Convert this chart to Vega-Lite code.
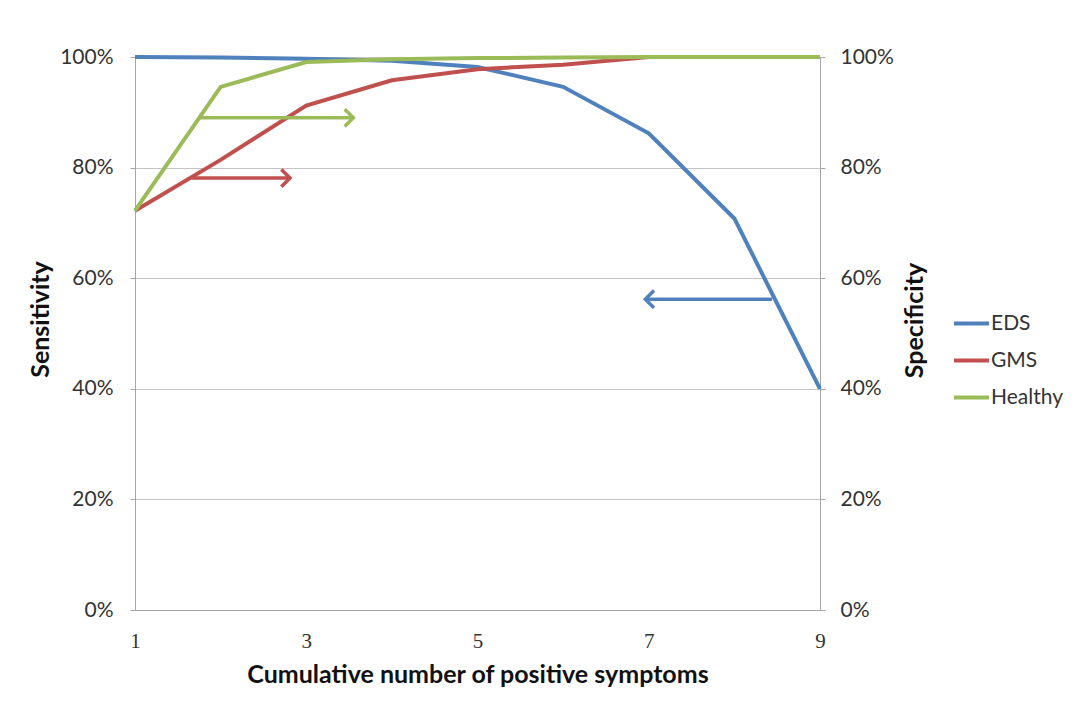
{
  "$schema": "https://vega.github.io/schema/vega-lite/v6.json",
  "width": 685,
  "height": 553,
  "autosize": {"type": "none"},
  "padding": {"left": 135, "top": 57, "right": 252, "bottom": 97},
  "background": "white",
  "config": {
    "view": {"stroke": null},
    "font": "Lato",
    "axis": {"labelFont": "Lato", "titleFont": "Lato", "labelColor": "#333333", "titleColor": "#111111", "domainColor": "#a6a6a6", "tickColor": "#a6a6a6", "gridColor": "#c4c4c4"},
    "legend": {"labelFont": "Lato"}
  },
  "datasets": {
    "curves": [
      {"x": 1, "series": "EDS", "value": 1.0},
      {"x": 2, "series": "EDS", "value": 0.999},
      {"x": 3, "series": "EDS", "value": 0.997},
      {"x": 4, "series": "EDS", "value": 0.993},
      {"x": 5, "series": "EDS", "value": 0.982},
      {"x": 6, "series": "EDS", "value": 0.946},
      {"x": 7, "series": "EDS", "value": 0.862},
      {"x": 8, "series": "EDS", "value": 0.708},
      {"x": 9, "series": "EDS", "value": 0.40},
      {"x": 1, "series": "GMS", "value": 0.722},
      {"x": 2, "series": "GMS", "value": 0.814},
      {"x": 3, "series": "GMS", "value": 0.912},
      {"x": 4, "series": "GMS", "value": 0.958},
      {"x": 5, "series": "GMS", "value": 0.978},
      {"x": 6, "series": "GMS", "value": 0.986},
      {"x": 7, "series": "GMS", "value": 1.0},
      {"x": 8, "series": "GMS", "value": 1.0},
      {"x": 9, "series": "GMS", "value": 1.0},
      {"x": 1, "series": "Healthy", "value": 0.722},
      {"x": 2, "series": "Healthy", "value": 0.946},
      {"x": 3, "series": "Healthy", "value": 0.991},
      {"x": 4, "series": "Healthy", "value": 0.996},
      {"x": 5, "series": "Healthy", "value": 0.998},
      {"x": 6, "series": "Healthy", "value": 0.999},
      {"x": 7, "series": "Healthy", "value": 1.0},
      {"x": 8, "series": "Healthy", "value": 1.0},
      {"x": 9, "series": "Healthy", "value": 1.0}
    ],
    "arrows": [
      {"series": "Healthy", "x": 1.76, "y": 0.89, "end": "tail", "dir": "right"},
      {"series": "Healthy", "x": 3.55, "y": 0.89, "end": "head", "dir": "right"},
      {"series": "GMS", "x": 1.66, "y": 0.781, "end": "tail", "dir": "right"},
      {"series": "GMS", "x": 2.81, "y": 0.781, "end": "head", "dir": "right"},
      {"series": "EDS", "x": 8.44, "y": 0.562, "end": "tail", "dir": "left"},
      {"series": "EDS", "x": 6.96, "y": 0.562, "end": "head", "dir": "left"}
    ]
  },
  "layer": [
    {
      "data": {"name": "curves"},
      "mark": {"type": "line", "strokeWidth": 4, "strokeJoin": "miter"},
      "encoding": {
        "x": {
          "field": "x", "type": "quantitative",
          "scale": {"domain": [1, 9], "nice": false, "zero": false},
          "axis": {
            "values": [1, 3, 5, 7, 9], "format": "d", "grid": false, "ticks": false, "labelFlush": false,
            "labelFontSize": 21, "labelPadding": 20, "labelFont": "Liberation Serif",
            "title": "Cumulative number of positive symptoms",
            "titleFontSize": 25, "titleFontWeight": "bold", "titlePadding": 11
          }
        },
        "y": {
          "field": "value", "type": "quantitative",
          "scale": {"domain": [0, 1], "nice": false},
          "axis": {
            "orient": "left", "values": [0, 0.2, 0.4, 0.6, 0.8, 1.0], "format": ".0%",
            "grid": true, "tickSize": 5, "labelFontSize": 21, "labelPadding": 17,
            "title": "Sensitivity", "titleFontSize": 25, "titleFontWeight": "bold",
            "titleAngle": 270, "titleX": -87, "titleY": 262, "titleBaseline": "alphabetic"
          }
        },
        "color": {
          "field": "series", "type": "nominal",
          "scale": {"domain": ["EDS", "GMS", "Healthy"], "range": ["#4f81bd", "#c0504d", "#9bbb59"]},
          "legend": {
            "title": null, "orient": "none", "legendX": 817, "legendY": 247,
            "symbolType": "stroke", "symbolSize": 1225, "symbolStrokeWidth": 4,
            "labelFontSize": 21, "labelColor": "#333333", "labelOffset": 0, "rowPadding": 7
          }
        }
      }
    },
    {
      "data": {"name": "arrows"},
      "layer": [
        {
          "mark": {"type": "line", "strokeWidth": 3.5},
          "encoding": {
            "x": {"field": "x", "type": "quantitative", "scale": {"domain": [1, 9], "nice": false, "zero": false}},
            "y": {
              "field": "y", "type": "quantitative",
              "scale": {"domain": [0, 1], "nice": false},
              "axis": {
                "orient": "right", "values": [0, 0.2, 0.4, 0.6, 0.8, 1.0], "format": ".0%",
                "grid": false, "tickSize": 5, "labelFontSize": 21, "labelPadding": 15,
                "title": "Specificity", "titleFontSize": 25, "titleFontWeight": "bold",
                "titleAngle": 270, "titleX": 102, "titleY": 263, "titleBaseline": "alphabetic"
              }
            },
            "color": {"field": "series", "type": "nominal", "legend": null},
            "detail": {"field": "series"}
          }
        },
        {
          "transform": [{"filter": "datum.end === 'head'"}],
          "mark": {"type": "point", "filled": false, "strokeWidth": 3.5, "opacity": 1, "size": 300},
          "encoding": {
            "x": {"field": "x", "type": "quantitative"},
            "y": {"field": "y", "type": "quantitative"},
            "color": {"field": "series", "type": "nominal", "legend": null},
            "shape": {
              "field": "dir", "type": "nominal",
              "scale": {"domain": ["right", "left"], "range": ["M-1,-1L0,0L-1,1", "M1,-1L0,0L1,1"]},
              "legend": null
            }
          }
        }
      ]
    }
  ],
  "resolve": {"scale": {"y": "independent"}, "axis": {"y": "independent"}, "legend": {"color": "independent"}}
}
